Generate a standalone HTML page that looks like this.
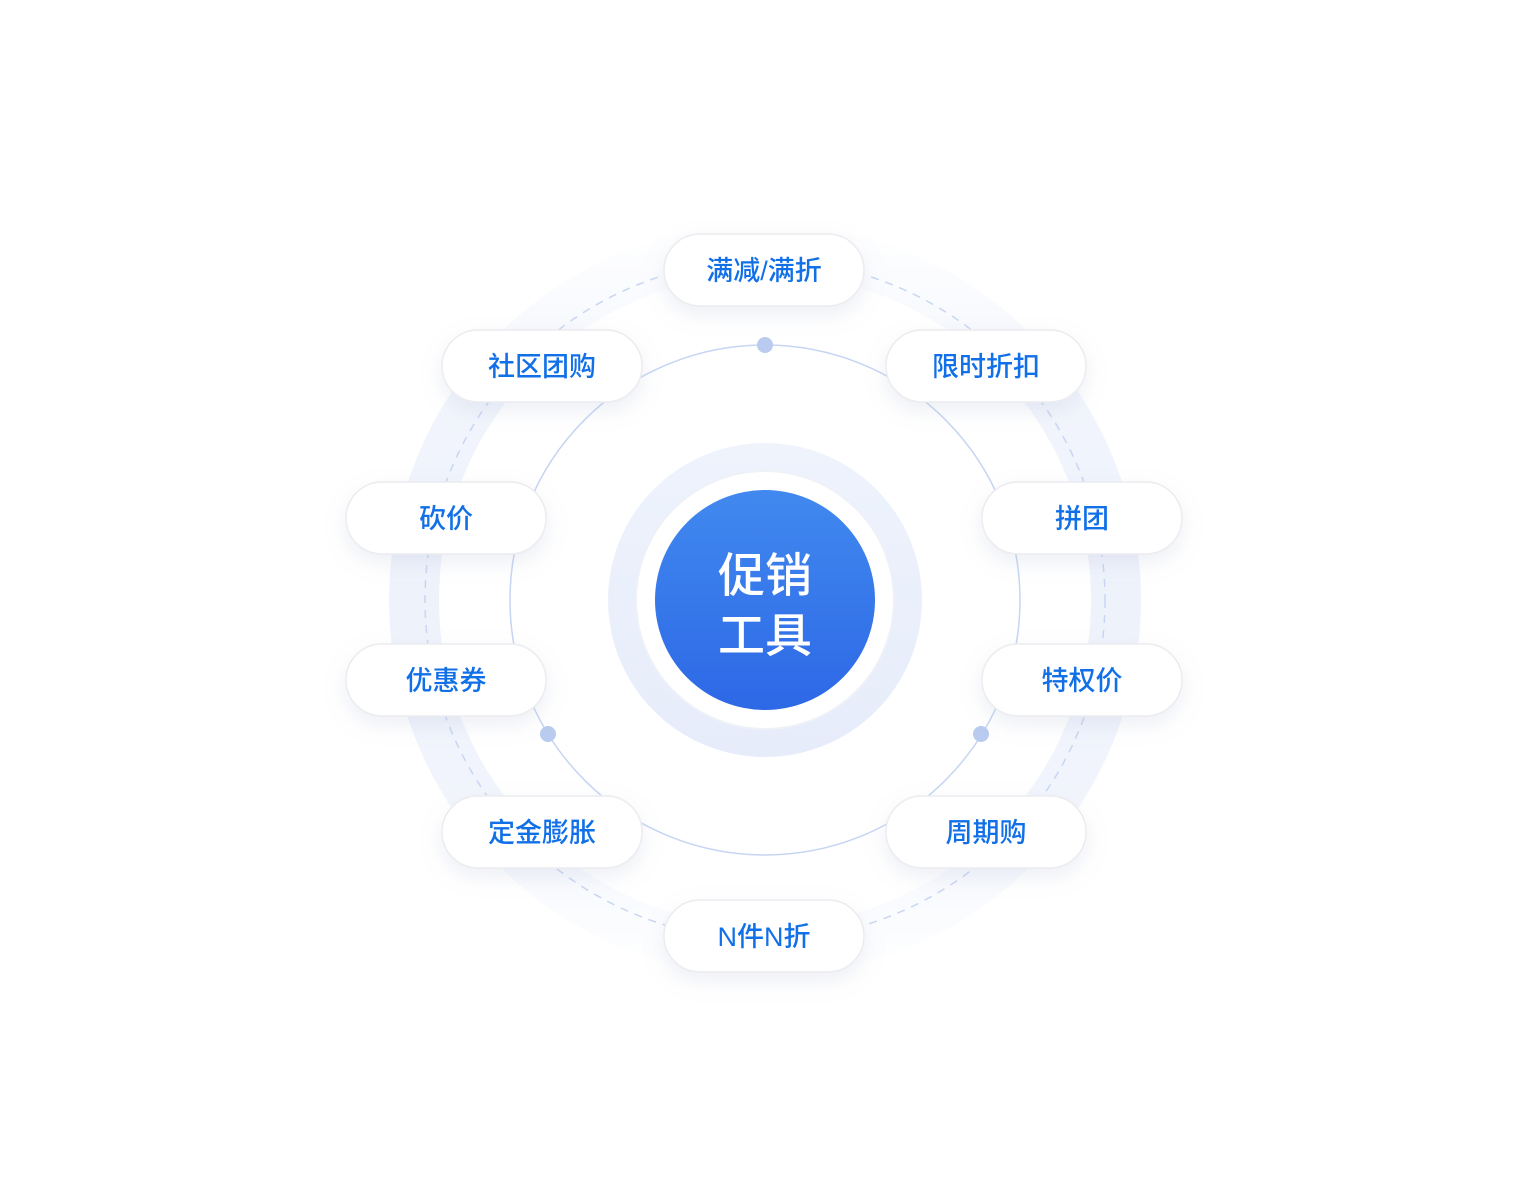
<!DOCTYPE html>
<html><head><meta charset="utf-8"><style>
html,body{margin:0;padding:0;background:#fff;width:1532px;height:1200px;overflow:hidden}
text{font-family:"Liberation Sans","Noto Sans CJK SC",sans-serif}
</style></head><body>
<svg width="1532" height="1200" viewBox="0 0 1532 1200" xmlns="http://www.w3.org/2000/svg">
<defs>
<linearGradient id="cg" x1="0" y1="0" x2="0" y2="1"><stop offset="0" stop-color="#4189ef"/><stop offset="1" stop-color="#2d68e6"/></linearGradient>
<linearGradient id="rg" x1="0" y1="0" x2="0" y2="1"><stop offset="0" stop-color="#eef3fc"/><stop offset="1" stop-color="#e6ecfa"/></linearGradient>
<linearGradient id="og" gradientUnits="userSpaceOnUse" x1="0" y1="225" x2="0" y2="975">
<stop offset="0" stop-color="#eef2fb" stop-opacity="0"/>
<stop offset="0.25" stop-color="#eef2fb" stop-opacity="0.8"/>
<stop offset="0.5" stop-color="#eef2fb" stop-opacity="1"/>
<stop offset="0.75" stop-color="#eef2fb" stop-opacity="0.8"/>
<stop offset="1" stop-color="#eef2fb" stop-opacity="0"/>
</linearGradient>
<filter id="sh" x="-30%" y="-50%" width="160%" height="220%"><feDropShadow dx="0" dy="8" stdDeviation="10" flood-color="#9aa8c8" flood-opacity="0.18"/></filter>
</defs>
<circle cx="765" cy="600" r="351" fill="none" stroke="url(#og)" stroke-width="50"/>
<circle cx="765" cy="600" r="340" fill="none" stroke="#c9d6f3" stroke-width="1.5" stroke-dasharray="8 7"/>
<circle cx="765" cy="600" r="255" fill="none" stroke="#c6d5f2" stroke-width="1.5"/>
<circle cx="765" cy="600" r="157" fill="url(#rg)"/>
<circle cx="765" cy="600" r="129" fill="#fff" stroke="#eef1f7" stroke-width="2"/>
<circle cx="765" cy="600" r="110" fill="url(#cg)"/>
<text x="765" y="592" text-anchor="middle" font-size="47" fill="#fff" font-weight="500">促销</text>
<text x="765" y="652" text-anchor="middle" font-size="47" fill="#fff" font-weight="500">工具</text>
<circle cx="765" cy="345" r="8" fill="#b9cbee"/>
<circle cx="548" cy="734" r="8" fill="#b9cbee"/>
<circle cx="981" cy="734" r="8" fill="#b9cbee"/>
<g filter="url(#sh)" fill="#fff" stroke="#ececf0" stroke-width="1.5">
<rect x="664" y="234" width="200" height="72" rx="36"/>
<rect x="442" y="330" width="200" height="72" rx="36"/>
<rect x="886" y="330" width="200" height="72" rx="36"/>
<rect x="346" y="482" width="200" height="72" rx="36"/>
<rect x="982" y="482" width="200" height="72" rx="36"/>
<rect x="346" y="644" width="200" height="72" rx="36"/>
<rect x="982" y="644" width="200" height="72" rx="36"/>
<rect x="442" y="796" width="200" height="72" rx="36"/>
<rect x="886" y="796" width="200" height="72" rx="36"/>
<rect x="664" y="900" width="200" height="72" rx="36"/>
</g>
<g font-size="27" fill="#1170e8" text-anchor="middle" font-weight="500">
<text x="764" y="280">满减/满折</text>
<text x="542" y="376">社区团购</text>
<text x="986" y="376">限时折扣</text>
<text x="446" y="528">砍价</text>
<text x="1082" y="528">拼团</text>
<text x="446" y="690">优惠券</text>
<text x="1082" y="690">特权价</text>
<text x="542" y="842">定金膨胀</text>
<text x="986" y="842">周期购</text>
<text x="764" y="946">N件N折</text>
</g>
</svg>
</body></html>
